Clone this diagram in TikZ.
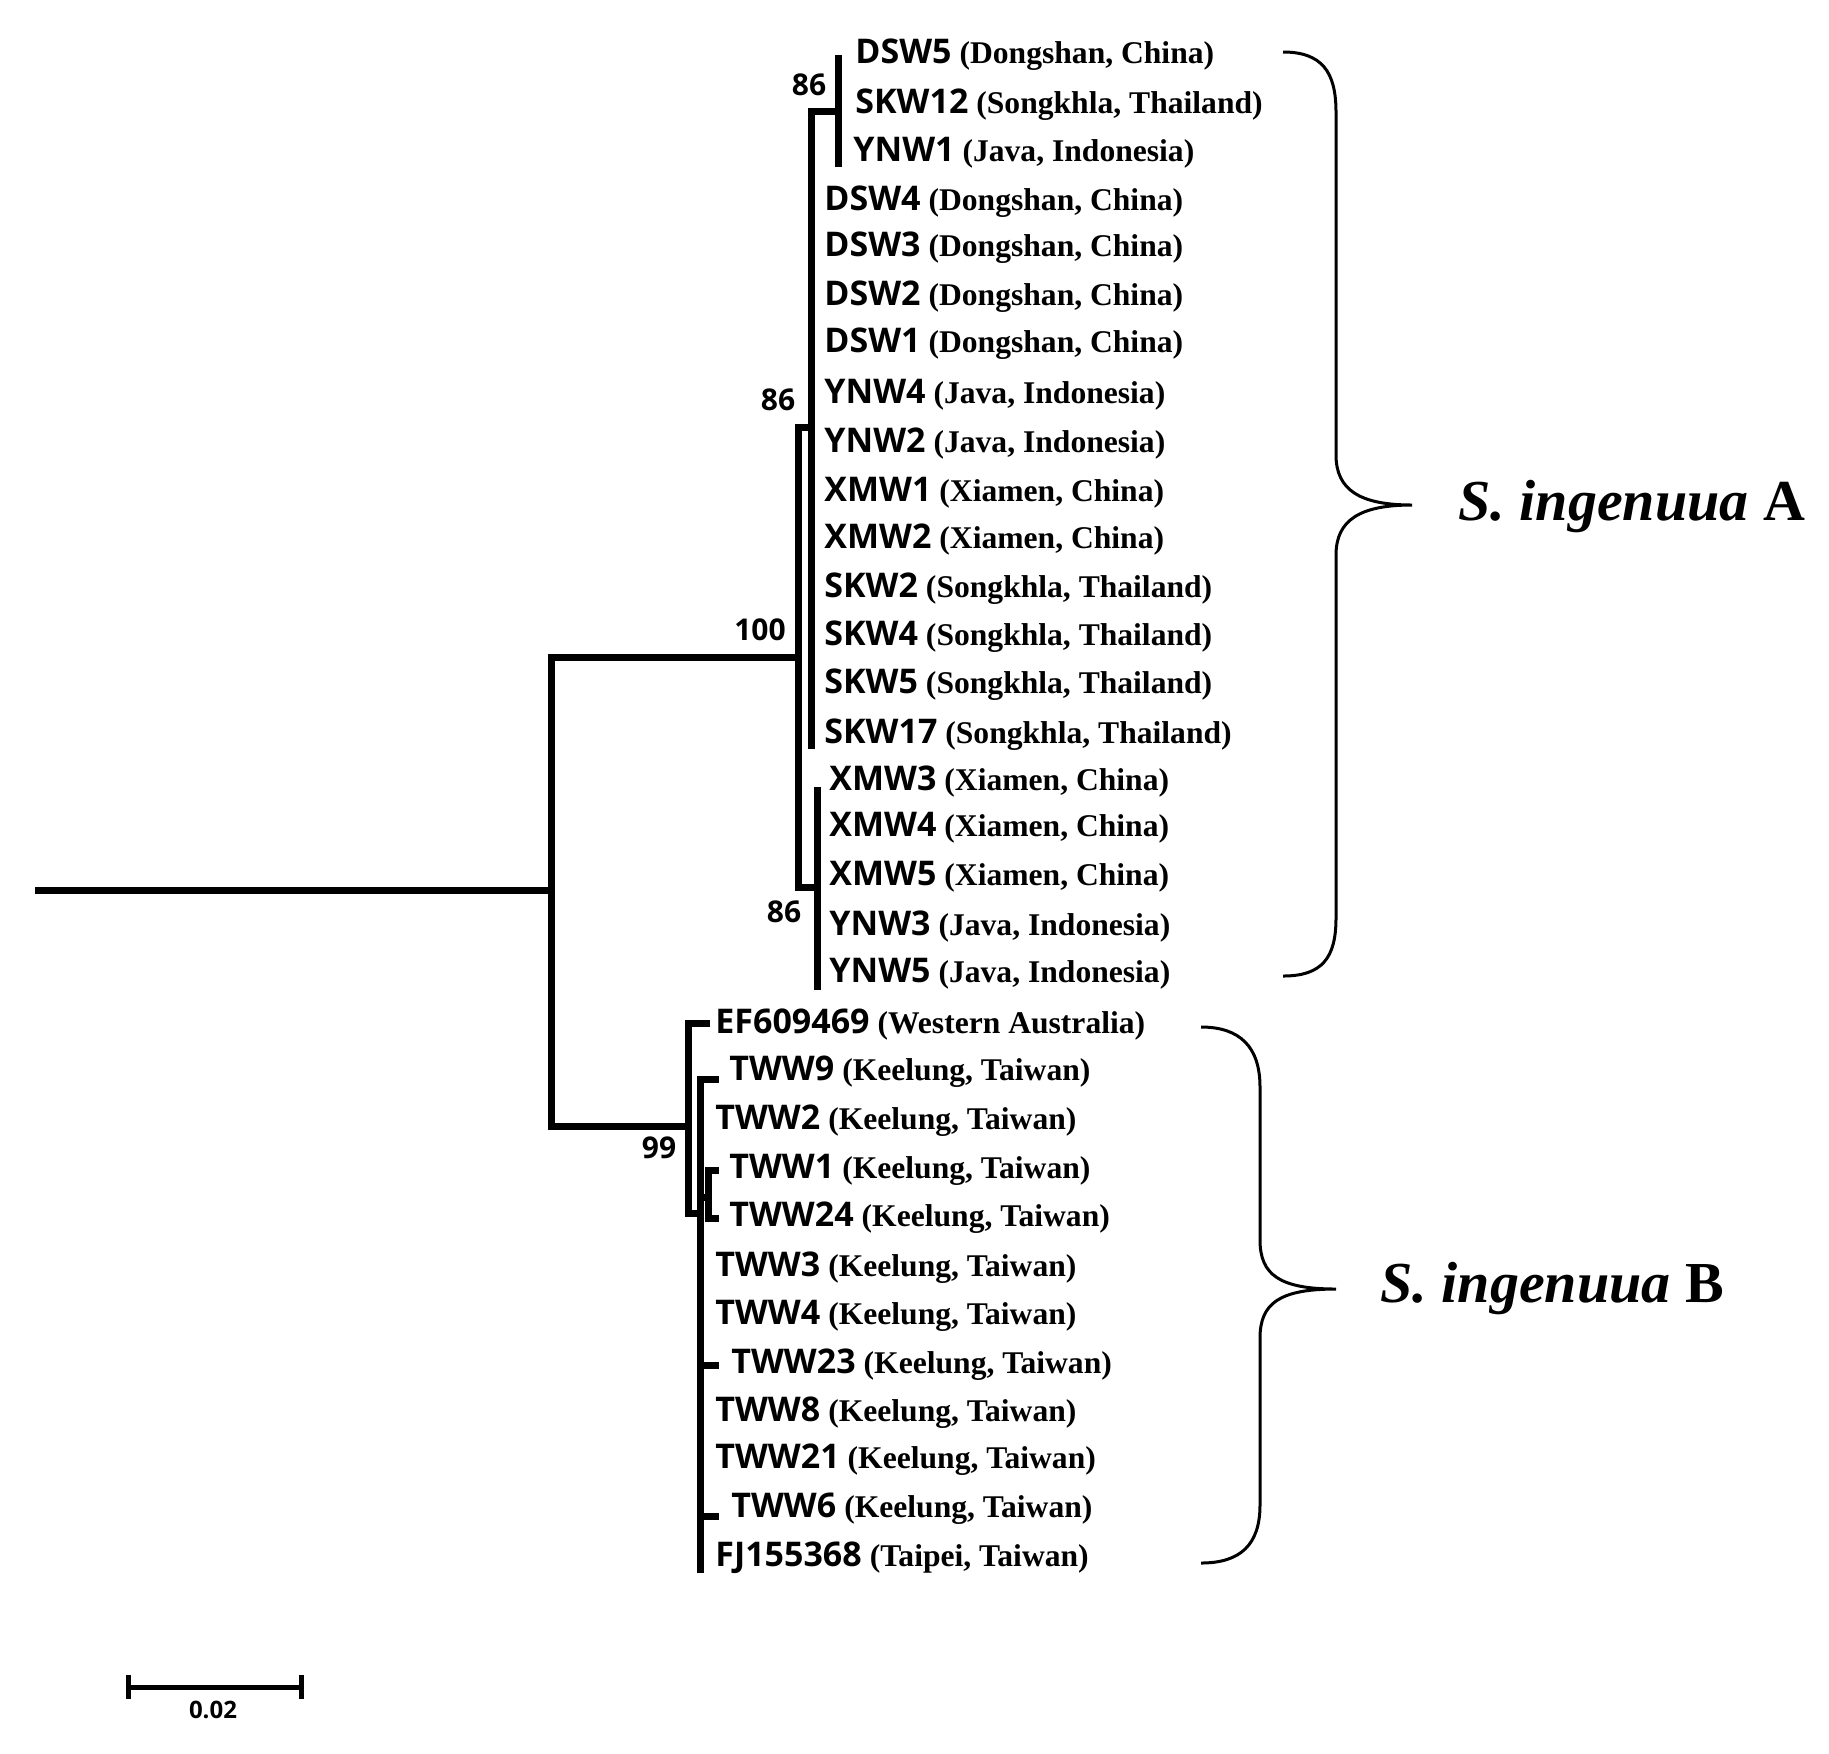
\documentclass[tikz,border=0pt]{standalone}
\usepackage{fontspec}
\setmainfont{Liberation Serif}
\newfontfamily\codefont{Open Sans}
\begin{document}
\begin{tikzpicture}[x=0.5pt,y=-0.5pt,
  br/.style={line width=3.5pt,line cap=rect},
  brace/.style={line width=1.5pt},
  lab/.style={anchor=west,inner sep=0pt,font=\fontsize{15.8}{17}\selectfont},
  bs/.style={font=\codefont\fontsize{15}{17}\selectfont\bfseries,inner sep=0pt}]
\useasboundingbox (0,0) rectangle (1829,1753);
\newcommand\lb[4]{\node[lab] (#1) at (#2,#3) {{\codefont\fontsize{17}{19}\selectfont\bfseries #1}\hspace{4pt}\textbf{#4}};}
% tree
\draw[br] (38,890) -- (551,890);
\draw[br] (798,657) -- (551,657) -- (551,1126) -- (688,1126);
% clade A
\draw[br] (798,427) -- (798,887);
\draw[br] (798,427) -- (811,427);
\draw[br] (811,111) -- (811,745);
\draw[br] (811,111) -- (838,111);
\draw[br] (838,58) -- (838,163);
\draw[br] (798,887) -- (817,887);
\draw[br] (817,790) -- (817,986);
% clade B
\draw[br] (688,1023) -- (688,1213);
\draw[br] (688,1023) -- (706,1023);
\draw[br] (688,1213) -- (700,1213);
\draw[br] (700,1079) -- (700,1569);
\draw[br] (700,1079) -- (715,1079);
\draw[br] (708,1170) -- (708,1218);
\draw[br] (700,1197) -- (708,1197);
\draw[br] (708,1170) -- (715,1170);
\draw[br] (708,1218) -- (715,1218);
\draw[br] (700,1365) -- (715,1365);
\draw[br] (700,1516) -- (715,1516);
% bootstrap
\node[bs] at (809,85) {86};
\node[bs] at (778,400) {86};
\node[bs] at (760,630) {100};
\node[bs] at (784,912) {86};
\node[bs] at (659,1148) {99};
% labels
\lb{DSW5}{855}{55}{(Dongshan, China)}
\lb{SKW12}{855}{105}{(Songkhla, Thailand)}
\lb{YNW1}{853}{153}{(Java, Indonesia)}
\lb{DSW4}{824}{202}{(Dongshan, China)}
\lb{DSW3}{824}{248}{(Dongshan, China)}
\lb{DSW2}{824}{297}{(Dongshan, China)}
\lb{DSW1}{824}{344}{(Dongshan, China)}
\lb{YNW4}{824}{395}{(Java, Indonesia)}
\lb{YNW2}{824}{444}{(Java, Indonesia)}
\lb{XMW1}{824}{493}{(Xiamen, China)}
\lb{XMW2}{824}{540}{(Xiamen, China)}
\lb{SKW2}{824}{589}{(Songkhla, Thailand)}
\lb{SKW4}{824}{637}{(Songkhla, Thailand)}
\lb{SKW5}{824}{685}{(Songkhla, Thailand)}
\lb{SKW17}{824}{735}{(Songkhla, Thailand)}
\lb{XMW3}{829}{782}{(Xiamen, China)}
\lb{XMW4}{829}{828}{(Xiamen, China)}
\lb{XMW5}{829}{877}{(Xiamen, China)}
\lb{YNW3}{829}{927}{(Java, Indonesia)}
\lb{YNW5}{829}{974}{(Java, Indonesia)}
\lb{EF609469}{715}{1025}{(Western Australia)}
\lb{TWW9}{729}{1072}{(Keelung, Taiwan)}
\lb{TWW2}{715}{1121}{(Keelung, Taiwan)}
\lb{TWW1}{729}{1170}{(Keelung, Taiwan)}
\lb{TWW24}{729}{1218}{(Keelung, Taiwan)}
\lb{TWW3}{715}{1268}{(Keelung, Taiwan)}
\lb{TWW4}{715}{1316}{(Keelung, Taiwan)}
\lb{TWW23}{731}{1365}{(Keelung, Taiwan)}
\lb{TWW8}{715}{1413}{(Keelung, Taiwan)}
\lb{TWW21}{715}{1460}{(Keelung, Taiwan)}
\lb{TWW6}{731}{1509}{(Keelung, Taiwan)}
\lb{FJ155368}{715}{1558}{(Taipei, Taiwan)}
% braces
\draw[brace] (1283,52) .. controls (1322,52) and (1336,72) .. (1336,112) -- (1336,455) .. controls (1336,490) and (1360,505) .. (1412,505)
  .. controls (1360,505) and (1336,520) .. (1336,555) -- (1336,918) .. controls (1336,958) and (1322,976) .. (1283,976);
\node[anchor=west,inner sep=0pt,font=\fontsize{29}{33}\selectfont\bfseries] (cA) at (1458,507) {\textit{S. ingenuua} A};
\draw[brace] (1201,1027) .. controls (1240,1027) and (1260,1047) .. (1260,1087) -- (1260,1240) .. controls (1260,1275) and (1280,1289) .. (1336,1289)
  .. controls (1280,1289) and (1260,1303) .. (1260,1338) -- (1260,1505) .. controls (1260,1545) and (1240,1563) .. (1201,1563);
\node[anchor=west,inner sep=0pt,font=\fontsize{29}{33}\selectfont\bfseries] (cB) at (1380,1289) {\textit{S. ingenuua} B};
% scale bar
\draw[line width=2.5pt] (128,1687) -- (301,1687);
\draw[line width=2.5pt] (128,1675) -- (128,1699);
\draw[line width=2.5pt] (301,1675) -- (301,1699);
\node[bs,font=\codefont\fontsize{12}{14}\selectfont\bfseries] (sc) at (213,1710) {0.02};
\end{tikzpicture}
\end{document}
